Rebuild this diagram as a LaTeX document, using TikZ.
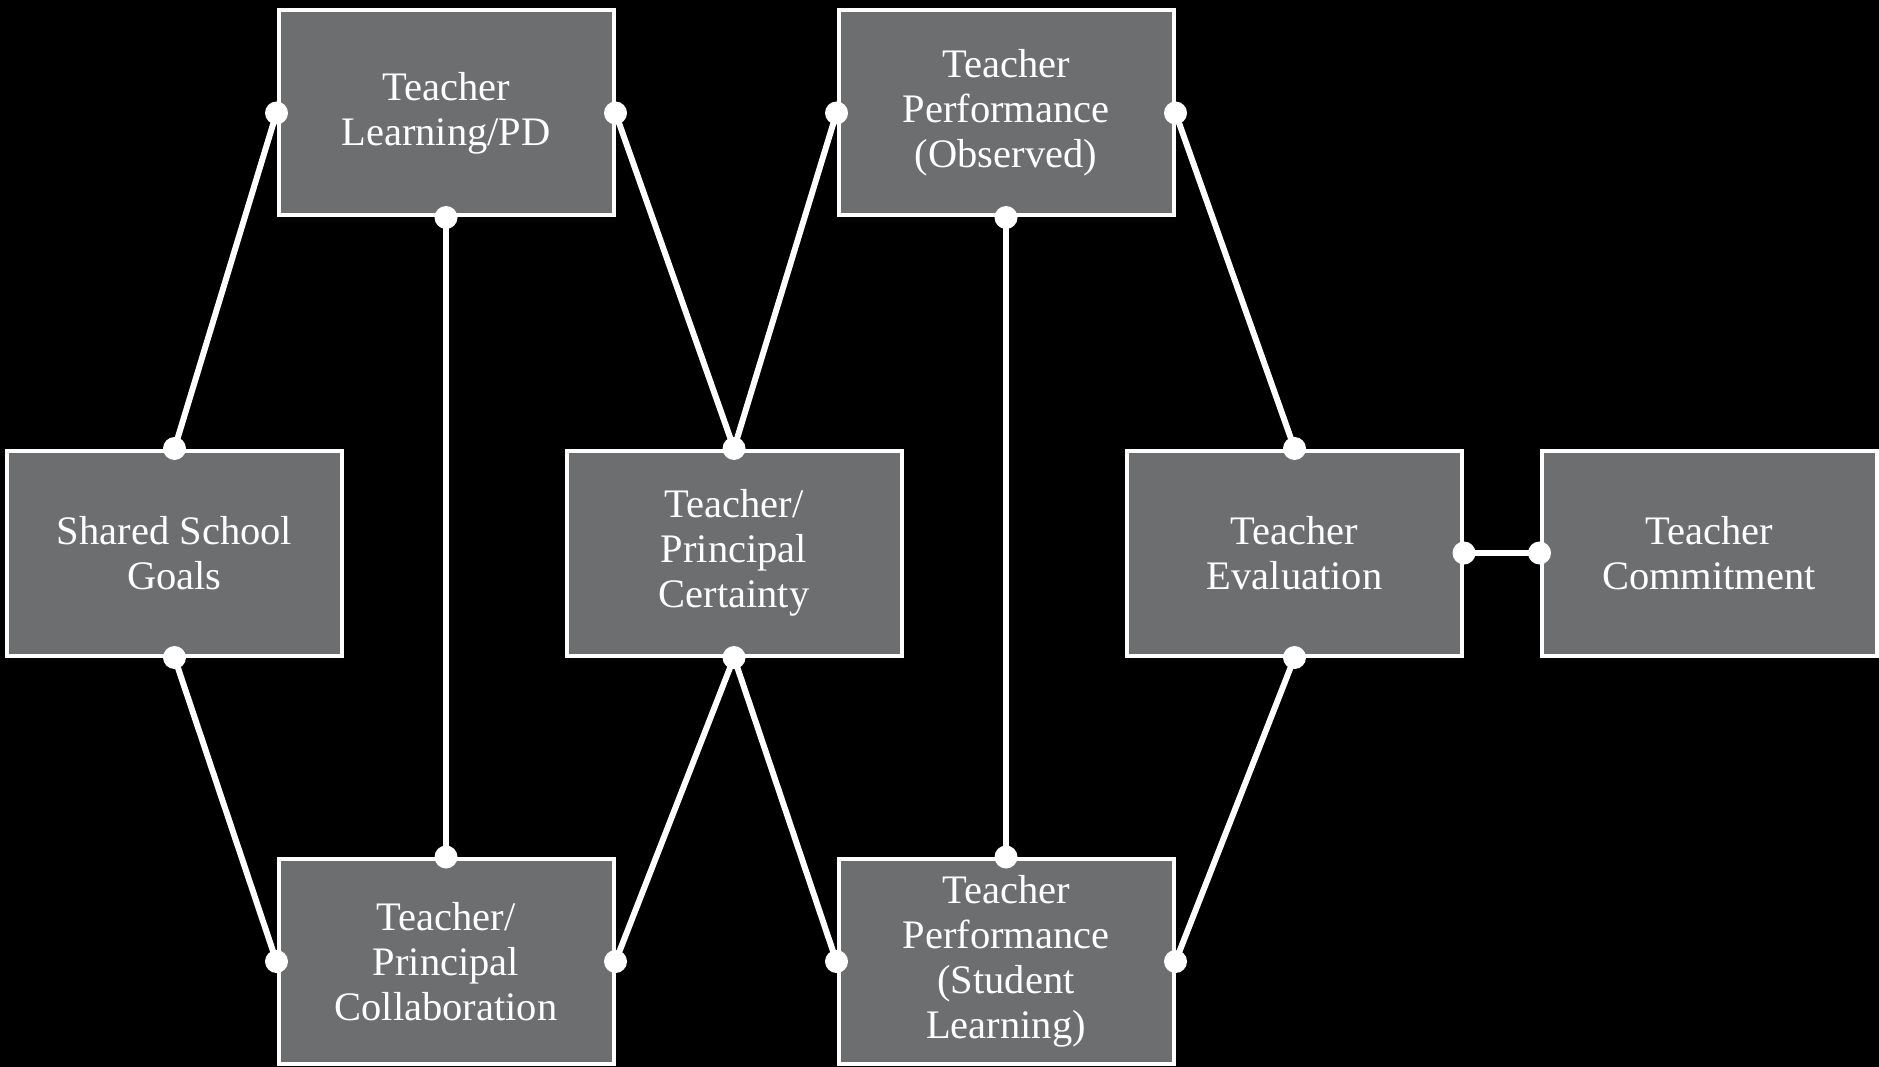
\documentclass[tikz,border=0pt]{standalone}
\usepackage{fontspec}
\setmainfont{Liberation Serif}
\definecolor{boxgray}{RGB}{109,110,112}
\begin{document}
\begin{tikzpicture}[x=1pt,y=-1pt,
  box/.style={draw=white, line width=4pt, fill=boxgray, minimum width=335pt,
    minimum height=205pt, inner sep=0pt, align=center, text=white,
    font=\fontsize{40.5}{45}\selectfont},
  link/.style={draw=white, line width=6pt},
  joint/.style={fill=white}]
% page and backdrop
\fill[black] (0,0) rectangle (1879,1067);
\useasboundingbox (0,0) rectangle (1879,1067);

% boxes
\node[box] (goals)   at (174.5,553)  {Shared School\\Goals};
\node[box] (pd)      at (446,113)    {Teacher\\Learning/PD};
\node[box] (collab)  at (446,961.5)  {Teacher/\\Principal\\Collaboration};
\node[box] (cert)    at (734,553)    {Teacher/\\Principal\\Certainty};
\node[box] (obs)     at (1006,113)   {Teacher\\Performance\\(Observed)};
\node[box] (student) at (1006,961.5) {Teacher\\Performance\\(Student\\Learning)};
\node[box] (eval)    at (1294.5,553) {Teacher\\Evaluation};
\node[box] (commit)  at (1709,553)   {Teacher\\Commitment};

% connectors
\draw[link] (goals.north) -- (pd.west);
\draw[link] (goals.south) -- (collab.west);
\draw[link] (pd.south) -- (collab.north);
\draw[link] (pd.east) -- (cert.north);
\draw[link] (obs.west) -- (cert.north);
\draw[link] (cert.south) -- (collab.east);
\draw[link] (cert.south) -- (student.west);
\draw[link] (obs.south) -- (student.north);
\draw[link] (obs.east) -- (eval.north);
\draw[link] (student.east) -- (eval.south);
\draw[link] (eval.east) -- (commit.west);

% joints at the connector ends
\foreach \p in {goals.north, goals.south, pd.west, pd.east, pd.south,
  obs.west, obs.east, obs.south, cert.north, cert.south,
  collab.north, collab.west, collab.east,
  student.north, student.west, student.east,
  eval.north, eval.south, eval.east, commit.west}
  \fill[joint] (\p) circle (11.5pt);
\end{tikzpicture}
\end{document}
